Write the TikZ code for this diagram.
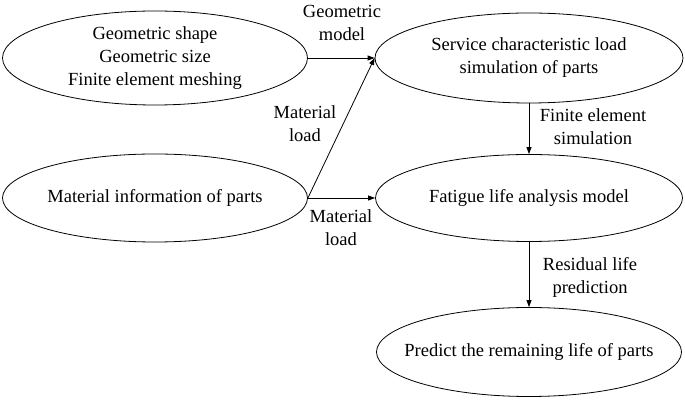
\documentclass[tikz,border=0pt]{standalone}
\usepackage{fontspec}
\setmainfont{Liberation Serif}
\usetikzlibrary{shapes.geometric,arrows.meta}
\begin{document}
\begin{tikzpicture}[x=1pt,y=1pt,
	font=\fontsize{18.5}{23}\selectfont,
	part/.style={draw,ellipse,inner sep=0pt,align=center,line width=0.8pt},
	lab/.style={align=center},
	flow/.style={-{Triangle[length=7pt,width=5pt]},line width=0.8pt}]

	\useasboundingbox (0,0) rectangle (685,401);

	% Ellipsen
	\node[part,minimum width=305,minimum height=94] (geo)  at (155,343) {Geometric shape\\Geometric size\\Finite element meshing};
	\node[part,minimum width=308,minimum height=90] (serv) at (529,343) {Service characteristic load\\simulation of parts};
	\node[part,minimum width=305,minimum height=88] (mat)  at (155,203) {Material information of parts};
	\node[part,minimum width=307,minimum height=87] (fat)  at (529,203) {Fatigue life analysis model};
	\node[part,inner xsep=-22pt,minimum width=305,minimum height=89] (pred) at (529,49) {Predict the remaining life of parts};

	% Pfeile
	\draw[flow] (geo.east) -- (serv.west);
	\draw[flow] (mat.east) -- (serv.west);
	\draw[flow] (mat.east) -- (fat.west);
	\draw[flow] (serv.south) -- (fat.north);
	\draw[flow] (fat.south) -- (pred.north);

	% Beschriftungen
	\node[lab] (lgeo)  at (342,378) {Geometric\\model};
	\node[lab] (lmat1) at (305,277) {Material\\load};
	\node[lab] (lmat2) at (341,173) {Material\\load};
	\node[lab] (lfe)   at (593,274) {Finite element\\simulation};
	\node[lab] (lres)  at (590,124) {Residual life\\prediction};

\end{tikzpicture}
\end{document}
